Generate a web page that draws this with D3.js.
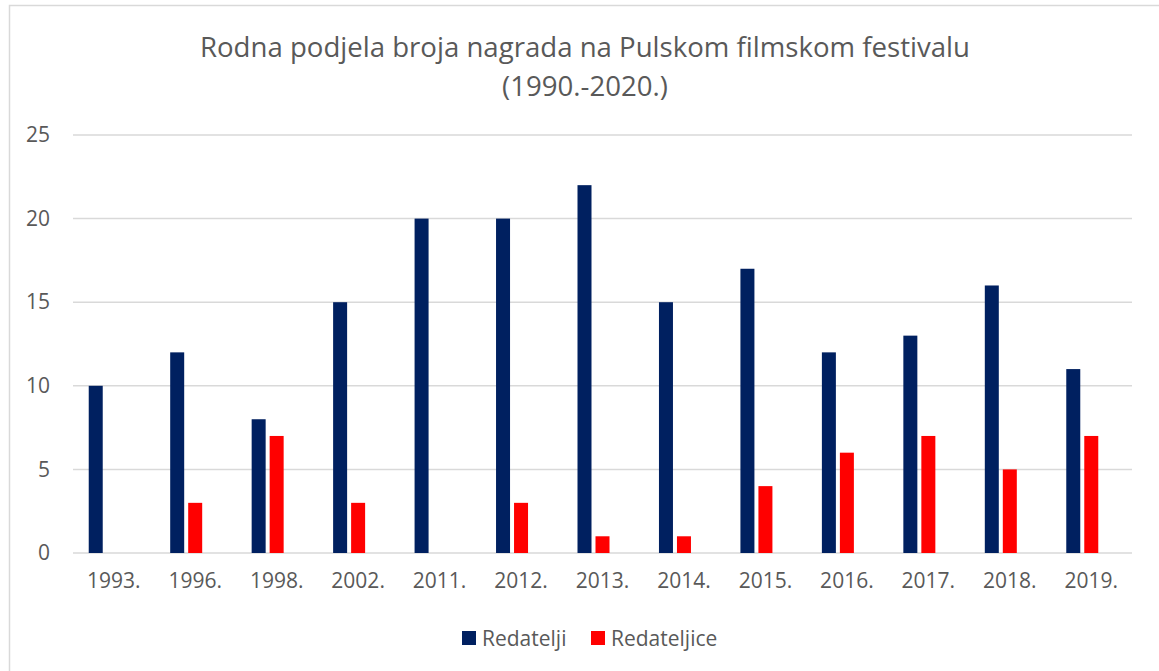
<!DOCTYPE html>
<html>
<head>
<meta charset="utf-8">
<script src="https://cdn.jsdelivr.net/npm/d3@7"></script>
<style>
  body { margin: 0; background: #fff; }
  svg { display: block; font-family: "Open Sans", "Noto Sans", sans-serif; }
</style>
</head>
<body>
<svg id="chart" width="1159" height="671"></svg>
<script>
const years = ["1993.", "1996.", "1998.", "2002.", "2011.", "2012.", "2013.", "2014.", "2015.", "2016.", "2017.", "2018.", "2019."];
const redatelji = [10, 12, 8, 15, 20, 20, 22, 15, 17, 12, 13, 16, 11];
const redateljice = [0, 3, 7, 3, 0, 3, 1, 1, 4, 6, 7, 5, 7];
const seriesNames = ["Redatelji", "Redateljice"];
const seriesColors = ["#002060", "#FF0000"];
const yTicks = [0, 5, 10, 15, 20, 25];

const svg = d3.select("#chart");
const margin = { left: 73, right: 27, top: 135, bottom: 118 };
const width = 1159, height = 671;
const textColor = "#595959";

// frame (only top and left edges are inside the picture)
svg.append("rect")
  .attr("x", 9.5).attr("y", 5.5)
  .attr("width", 1200).attr("height", 700)
  .attr("fill", "none").attr("stroke", "#d9d9d9").attr("stroke-width", 1.5);

const x0 = d3.scaleBand()
  .domain(years)
  .range([margin.left, width - margin.right]);

// group holds 3 slots in the original (third one empty), so bars sit left of centre
const barW = 14, barGap = 4;
const groupOffset = (x0.bandwidth() - (3 * barW + 2 * barGap)) / 2;
const x1 = d3.scaleBand()
  .domain(seriesNames)
  .range([groupOffset, groupOffset + 2 * barW + barGap])
  .paddingInner(barGap / (barW + barGap));

const y = d3.scaleLinear()
  .domain([0, 25])
  .range([height - margin.bottom, margin.top]);

// title
svg.append("text")
  .attr("x", 585).attr("y", 57)
  .attr("text-anchor", "middle")
  .attr("fill", textColor)
  .attr("font-size", 27.6)
  .text("Rodna podjela broja nagrada na Pulskom filmskom festivalu");
svg.append("text")
  .attr("x", 585).attr("y", 96)
  .attr("text-anchor", "middle")
  .attr("fill", textColor)
  .attr("font-size", 27.6)
  .text("(1990.-2020.)");

// grid
svg.append("g")
  .selectAll("line")
  .data(yTicks)
  .join("line")
  .attr("x1", margin.left).attr("x2", width - margin.right)
  .attr("y1", d => y(d)).attr("y2", d => y(d))
  .attr("stroke", "#d9d9d9").attr("stroke-width", 1.5);

// y axis labels
const yAxis = d3.axisLeft(y).tickValues(yTicks).tickSize(0).tickPadding(0);
svg.append("g")
  .attr("transform", "translate(50,0)")
  .call(yAxis)
  .call(g => g.select(".domain").remove())
  .selectAll("text")
  .attr("fill", textColor)
  .attr("font-size", 21)
  .attr("font-family", "\"Open Sans\", sans-serif");

// x axis labels
const xAxis = d3.axisBottom(x0).tickSize(0).tickPadding(0);
svg.append("g")
  .attr("transform", `translate(0,${y(0) + 20})`)
  .call(xAxis)
  .call(g => g.select(".domain").remove())
  .selectAll("text")
  .attr("fill", textColor)
  .attr("font-size", 21)
  .attr("font-family", "\"Open Sans\", sans-serif");

// bars
const rows = years.map((yr, i) => ({ year: yr, values: [redatelji[i], redateljice[i]] }));
svg.append("g")
  .selectAll("g")
  .data(rows)
  .join("g")
  .attr("transform", d => `translate(${x0(d.year)},0)`)
  .selectAll("rect")
  .data(d => d.values.map((v, k) => ({ key: seriesNames[k], value: v, color: seriesColors[k] })))
  .join("rect")
  .attr("x", d => x1(d.key))
  .attr("width", x1.bandwidth())
  .attr("y", d => y(d.value))
  .attr("height", d => y(0) - y(d.value))
  .attr("fill", d => d.color);

// legend
const legendX = [462, 591];
const legend = svg.append("g");
seriesNames.forEach((name, k) => {
  legend.append("rect")
    .attr("x", legendX[k]).attr("y", 631)
    .attr("width", 14).attr("height", 14)
    .attr("fill", seriesColors[k]);
  legend.append("text")
    .attr("x", legendX[k] + 20).attr("y", 645.5)
    .attr("fill", textColor)
    .attr("font-size", 21)
    .text(name);
});
</script>
</body>
</html>
